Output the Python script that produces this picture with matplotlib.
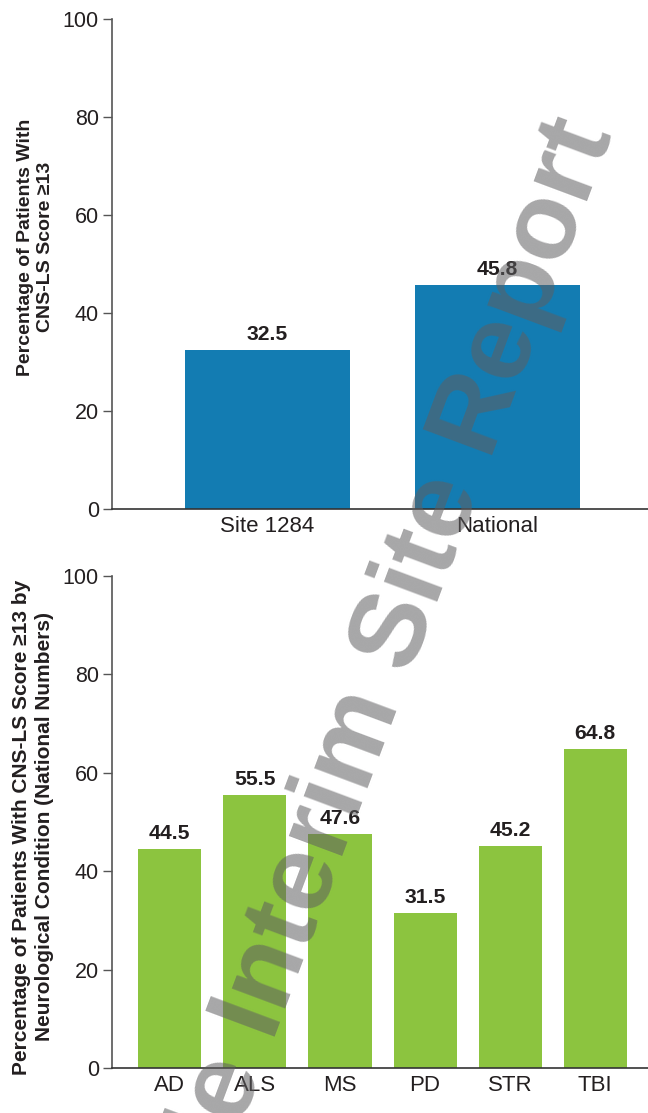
import matplotlib
matplotlib.use('Agg')
import matplotlib.pyplot as plt

plt.rcParams['font.family'] = ['Liberation Sans', 'DejaVu Sans']

# top chart: site vs national
SITE_LABELS = ['Site 1284', 'National']
SITE_VALUES = [32.5, 45.8]

# bottom chart: national numbers by neurological condition
COND_LABELS = ['AD', 'ALS', 'MS', 'PD', 'STR', 'TBI']
COND_VALUES = [44.5, 55.5, 47.6, 31.5, 45.2, 64.8]

BLUE = '#137cb2'
GREEN = '#8cc43f'
TXT = '#231f20'
SPINE = '#555555'

fig = plt.figure(figsize=(6.48, 11.13), dpi=100, facecolor='white')
ax1 = fig.add_axes([112/648, 1-509/1113, 1-112/648, (509-19)/1113])
ax2 = fig.add_axes([112/648, 1-1068/1113, 1-112/648, (1068-576)/1113])


def style(ax, labels, values, color, width, xlim, ylabel, label_y, label_size):
    x = range(len(values))
    ax.bar(x, values, width=width, color=color, zorder=2)
    for xi, v in zip(x, values):
        ax.text(xi, v + 1.2, f'{v:.1f}', ha='center', va='bottom',
                fontsize=15.2, fontweight='bold', color=TXT)
    ax.set_xlim(*xlim)
    ax.set_ylim(0, 100)
    ax.set_yticks([0, 20, 40, 60, 80, 100])
    ax.set_xticks(list(x))
    ax.set_xticklabels(labels)
    ax.tick_params(axis='y', length=6.5, width=1, color=SPINE, labelsize=15.5,
                   labelcolor=TXT, pad=3)
    ax.tick_params(axis='x', length=0, labelsize=16, labelcolor=TXT, pad=5)
    for s in ('top', 'right'):
        ax.spines[s].set_visible(False)
    ax.spines['left'].set_color(SPINE)
    ax.spines['left'].set_linewidth(1.2)
    ax.spines['bottom'].set_color('#333333')
    ax.spines['bottom'].set_linewidth(1.2)
    ax.set_ylabel(ylabel, fontsize=label_size, fontweight='bold', color=TXT,
                  linespacing=1.25)
    ax.yaxis.set_label_coords(-0.108, label_y)


style(ax1, SITE_LABELS, SITE_VALUES, BLUE, 165/230, (-0.676, 1.654),
      'Percentage of Patients With\nCNS-LS Score ≥13', 0.535, 14)
style(ax2, COND_LABELS, COND_VALUES, GREEN, 63/85, (-0.68, 5.62),
      'Percentage of Patients With CNS-LS Score ≥13 by\nNeurological Condition (National Numbers)', 0.49, 15)

# watermark
fig.text(0.53, 0.305, 'Sample Interim Site Report', fontsize=78,
         fontweight='bold', color='#5f5e60', alpha=0.55, rotation=69.5,
         rotation_mode='anchor', ha='center', va='center', zorder=10)

fig.savefig('out.png', dpi=100, facecolor='white')
